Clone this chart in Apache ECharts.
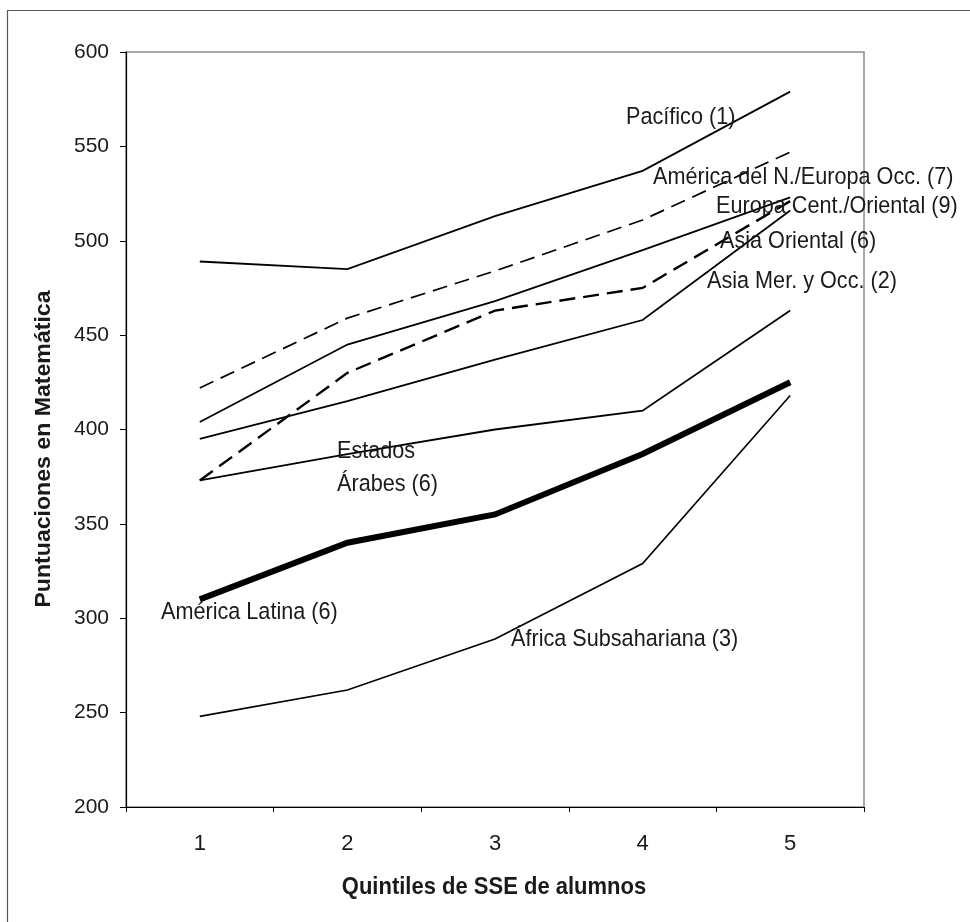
<!DOCTYPE html>
<html>
<head>
<meta charset="utf-8">
<script src="https://cdn.jsdelivr.net/npm/echarts@6/dist/echarts.min.js"></script>
<style>html,body{margin:0;padding:0;background:#fff;}#c{width:970px;height:922px;}</style>
</head>
<body>
<div id="c"></div>
<script>
const categories = ['1', '2', '3', '4', '5'];
const pacifico = [489, 485, 513, 537, 579];
const americaNorteEuropaOcc = [422, 459, 484, 511, 547];
const europaCentOriental = [404, 445, 468, 495, 523];
const asiaOriental = [373, 430, 463, 475, 521];
const asiaMerOcc = [395, 415, 437, 458, 516];
const estadosArabes = [373, 387, 400, 410, 463];
const americaLatina = [310, 340, 355, 387, 425];
const africaSubsahariana = [248, 262, 289, 329, 418];
const yTicks = { min: 200, max: 600, interval: 50 };

const FONT = '"Liberation Sans", Arial, sans-serif';
const TXT = '#1a1a1a';

function mk(name, data, width, type) {
  return {
    name, type: 'line', data, symbol: 'none', silent: true,
    lineStyle: { color: '#000', width, type: type || 'solid', cap: 'butt', join: 'miter' },
    z: 3
  };
}

const labels = [
  ['Pacífico (1)', 626, 118],
  ['América del N./Europa Occ. (7)', 653, 178],
  ['Europa Cent./Oriental (9)', 716, 207],
  ['Asia Oriental (6)', 720, 242],
  ['Asia Mer. y Occ. (2)', 707, 282],
  ['Estados', 337, 452],
  ['Árabes (6)', 337, 485],
  ['América Latina (6)', 161, 613],
  ['África Subsahariana (3)', 511, 640]
];

const chart = echarts.init(document.getElementById('c'), null, { renderer: 'canvas' });
chart.setOption({
  animation: false,
  backgroundColor: '#fff',
  grid: { left: 126, right: 106, top: 52, bottom: 115, show: true, borderColor: '#8a8a8a', borderWidth: 1.5, backgroundColor: 'transparent' },
  xAxis: {
    type: 'category', data: categories, boundaryGap: true,
    axisLine: { lineStyle: { color: '#000', width: 1.2 } },
    axisTick: { show: true, length: 5, lineStyle: { color: '#000' } },
    axisLabel: { color: TXT, fontSize: 22, fontFamily: FONT, margin: 26 },
    splitLine: { show: false }
  },
  yAxis: {
    type: 'value', min: yTicks.min, max: yTicks.max, interval: yTicks.interval,
    axisLine: { show: true, lineStyle: { color: '#000', width: 1.2 } },
    axisTick: { show: true, length: 6, lineStyle: { color: '#000' } },
    axisLabel: { color: TXT, fontSize: 21, fontFamily: FONT, margin: 17 },
    splitLine: { show: false }
  },
  series: [
    mk('Pacífico (1)', pacifico, 1.8),
    mk('América del N./Europa Occ. (7)', americaNorteEuropaOcc, 1.7, [15, 8]),
    mk('Europa Cent./Oriental (9)', europaCentOriental, 1.8),
    mk('Asia Oriental (6)', asiaOriental, 2.4, [16, 8]),
    mk('Asia Mer. y Occ. (2)', asiaMerOcc, 1.8),
    mk('Estados Árabes (6)', estadosArabes, 1.8),
    mk('América Latina (6)', americaLatina, 6),
    mk('África Subsahariana (3)', africaSubsahariana, 1.6)
  ],
  graphic: [
    { type: 'rect', left: 5, top: 8, z: -10, silent: true,
      shape: { x: 0, y: 0, width: 1000, height: 1000 },
      style: { fill: 'none', stroke: '#555', lineWidth: 1.2 } },
    { type: 'text', x: 494, y: 887, z: 10, silent: true, scaleY: 1.12,
      style: { text: 'Quintiles de SSE de alumnos', fill: TXT, font: 'bold 22px ' + FONT, textAlign: 'center', textVerticalAlign: 'middle' } },
    { type: 'text', x: 44, y: 449, rotation: Math.PI / 2, z: 10, silent: true, scaleX: 1.05,
      style: { text: 'Puntuaciones en Matemática', fill: TXT, font: 'bold 22px ' + FONT, textAlign: 'center', textVerticalAlign: 'middle' } }
  ].concat(labels.map(l => ({
    type: 'text', x: l[1], y: l[2], z: 10, silent: true, scaleX: 1.03, scaleY: 1.12,
    style: { text: l[0], fill: TXT, font: '21px ' + FONT, textAlign: 'left', textVerticalAlign: 'middle' }
  })))
});
</script>
</body>
</html>
